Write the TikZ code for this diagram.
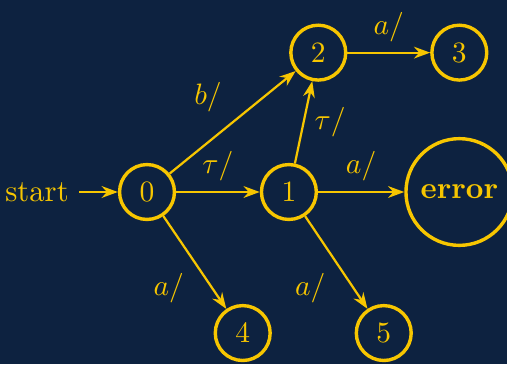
\documentclass[tikz,border=0pt]{standalone}
\usetikzlibrary{arrows.meta}
\definecolor{navy}{HTML}{0D2240}
\definecolor{gold}{HTML}{F7C600}

\begin{document}
\begin{tikzpicture}[
    every node/.style={text=gold, font=\fontsize{10.4}{12}\selectfont},
    state/.style={circle, draw=gold, line width=1.15pt, minimum size=18.6pt, inner sep=0pt},
    trans/.style={draw=gold, line width=0.75pt, -{Stealth[length=5.5pt,width=4pt]}},
  ]
  % Hintergrund
  \useasboundingbox[fill=navy] (-1.751,-2.049) rectangle (4.288,2.287);

  % Zustaende
  \node[state] (q0) at (0,0) {$0$};
  \node[state] (q1) at (1.69,0) {$1$};
  \node[state] (q2) at (2.04,1.66) {$2$};
  \node[state] (q3) at (3.72,1.66) {$3$};
  \node[state] (q4) at (1.14,-1.68) {$4$};
  \node[state] (q5) at (2.82,-1.68) {$5$};
  \node[state, inner sep=3.9pt] (err) at (3.72,0) {\textbf{error}};
  \node (start) at (-1.31,0) {start};

  % Uebergaenge
  \draw[trans] (start) -- (q0);
  \draw[trans] (q0) -- node[above left] {$b/$} (q2);
  \draw[trans] (q0) -- node[above] {$\tau/$} (q1);
  \draw[trans] (q0) -- node[below left] {$a/$} (q4);
  \draw[trans] (q1) -- node[right] {$\tau/$} (q2);
  \draw[trans] (q1) -- node[above] {$a/$} (err);
  \draw[trans] (q1) -- node[below left] {$a/$} (q5);
  \draw[trans] (q2) -- node[above] {$a/$} (q3);
\end{tikzpicture}
\end{document}
